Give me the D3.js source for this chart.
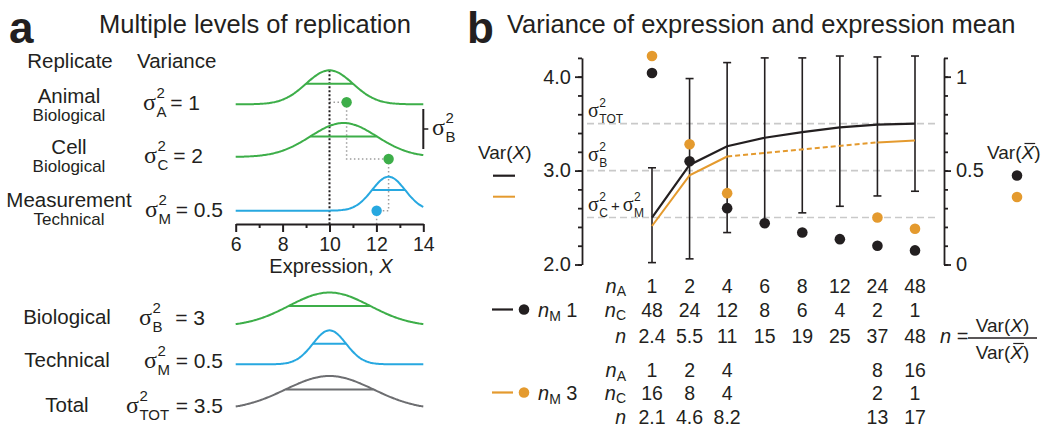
<!DOCTYPE html>
<html>
<head>
<meta charset="utf-8">
<script src="https://cdn.jsdelivr.net/npm/d3@7"></script>
<style>
  body { margin: 0; background: #fff; }
  svg text { font-family: "Liberation Sans", Arial, Helvetica, sans-serif; fill: #231f20; }
  svg text.sig { font-family: "Liberation Serif", "Times New Roman", serif; }
</style>
</head>
<body>
<svg id="fig" width="1050" height="431"></svg>
<script>
// ---------- panel a: levels of replication ----------
const rowNames = ["Animal", "Cell", "Measurement"];
const rowKinds = ["Biological", "Biological", "Technical"];
const rowSubs = ["A", "C", "M"];
const rowVar = [1, 2, 0.5];
const rowMean = [10, 10.6, 12.52];
const draws = [10.73, 12.52, 12.01]; // value drawn at each level

const sumNames = ["Biological", "Technical", "Total"];
const sumSubs = ["B", "M", "TOT"];
const sumVar = [3, 0.5, 3.5];
const sumMean = [10, 10, 10];

const exprTicks = [6, 8, 10, 12, 14];
const exprMinor = [7, 9, 11, 13];

// ---------- panel b: variance of expression and of the mean ----------
const nA1 = ["1", "2", "4", "6", "8", "12", "24", "48"];
const nC1 = ["48", "24", "12", "8", "6", "4", "2", "1"];
const nEff1 = ["2.4", "5.5", "11", "15", "19", "25", "37", "48"];
const varX1 = [2.50, 3.06, 3.26, 3.35, 3.41, 3.46, 3.49, 3.50];
const barLo1 = [2.02, 2.06, 2.34, 2.44, 2.55, 2.62, 2.73, 2.78];
const barHi1 = [3.03, 3.98, 4.15, 4.20, 4.20, 4.22, 4.21, 4.22];
const varMean1 = [1.02, 0.55, 0.30, 0.22, 0.17, 0.135, 0.10, 0.075];

const cols3 = ["1", "2", "4", "24", "48"]; // columns filled for n_M = 3
const nA3 = ["1", "2", "4", "8", "16"];
const nC3 = ["16", "8", "4", "2", "1"];
const nEff3 = ["2.1", "4.6", "8.2", "13", "17"];
const varX3 = [2.41, 2.95, 3.15, 3.30, 3.32];
const varMean3 = [1.11, 0.64, 0.38, 0.25, 0.19];

const refLines = [3.5, 3.0, 2.5]; // sigma_TOT, sigma_B, sigma_C + sigma_M

const green = "#3dae49", blue = "#27a8e0", grey = "#6d6e71",
      orange = "#e49a2e", ink = "#231f20", dotGrey = "#9d9d9d";
const font = '"Liberation Sans", Arial, Helvetica, sans-serif';

const svg = d3.select("#fig");

// sigma^2 with sub/superscript; returns right edge
function sigmaLabel(g, x, y, sub, o) {
  const size = o.size, small = o.small;
  const s = g.append("text").attr("class", "sig").attr("x", x).attr("y", y)
    .style("font-size", size + "px").text("σ");
  const sx = x + s.node().getComputedTextLength() + 0.5;
  const sup = g.append("text").attr("x", sx).attr("y", y - size * 0.5)
    .style("font-size", small + "px").text("2");
  const sb = g.append("text").attr("x", sx).attr("y", y + size * 0.28)
    .style("font-size", small + "px").text(sub);
  const right = sx + Math.max(sup.node().getComputedTextLength(), sb.node().getComputedTextLength());
  if (o.tail) {
    g.append("text").attr("x", o.tailEnd).attr("y", y).attr("text-anchor", "end")
      .style("font-size", o.tailSize + "px").text(o.tail);
  }
  return right;
}

// ================= panel a =================
const ga = svg.append("g");
ga.append("text").attr("x", 9).attr("y", 43).style("font-size", "44px")
  .style("font-weight", "bold").text("a");
ga.append("text").attr("x", 99).attr("y", 33).style("font-size", "25.5px")
  .text("Multiple levels of replication");
ga.append("text").attr("x", 70).attr("y", 68).attr("text-anchor", "middle")
  .style("font-size", "20.5px").text("Replicate");
ga.append("text").attr("x", 137).attr("y", 68).style("font-size", "20.5px").text("Variance");

const xa = d3.scaleLinear().domain([6, 14]).range([235.7, 423.3]);
const curveH = 34;
const rowBase = [104.3, 157, 210.7];
const sumBase = [326.5, 364.3, 410];
const rowColor = [green, green, blue];
const sumColor = [green, blue, grey];

const gauss = (m, v, base) => d3.line()
  .x(d => xa(d))
  .y(d => base - curveH * Math.exp(-((d - m) ** 2) / (2 * v)))
  .curve(d3.curveBasis)(d3.range(6, 14.001, 0.05));

function drawCurve(m, v, base, col) {
  ga.append("path").attr("d", gauss(m, v, base)).attr("fill", "none")
    .attr("stroke", col).attr("stroke-width", 2);
  const sd = Math.sqrt(v);
  ga.append("line").attr("x1", xa(m - sd)).attr("x2", xa(m + sd))
    .attr("y1", base - curveH * Math.exp(-0.5)).attr("y2", base - curveH * Math.exp(-0.5))
    .attr("stroke", col).attr("stroke-width", 2);
}

// guide lines (behind curves)
const guides = ga.append("g").attr("fill", "none").attr("stroke", dotGrey)
  .attr("stroke-width", 1.5).attr("stroke-dasharray", "1.5,2.5");
guides.append("path").attr("d", d3.line()([
  [xa(10), rowBase[0] - 2], [xa(draws[0]), rowBase[0] - 2]]));
guides.append("path").attr("d", d3.line()([
  [xa(draws[0]), rowBase[0] - 2], [xa(draws[0]), rowBase[1] + 2], [xa(draws[1]), rowBase[1] + 2]]));
guides.append("path").attr("d", d3.line()([
  [xa(draws[1]), rowBase[1] + 2], [xa(draws[1]), rowBase[2]], [xa(draws[2]), rowBase[2]]]));
guides.append("path").attr("d", d3.line()([
  [xa(draws[2]), rowBase[2]], [xa(draws[2]), 224]]));

ga.append("line").attr("x1", xa(10)).attr("x2", xa(10))
  .attr("y1", rowBase[0] - curveH).attr("y2", 224)
  .attr("stroke", ink).attr("stroke-width", 2).attr("stroke-dasharray", "2,2");

rowNames.forEach((n, i) => drawCurve(rowMean[i], rowVar[i], rowBase[i], rowColor[i]));
sumNames.forEach((n, i) => drawCurve(sumMean[i], sumVar[i], sumBase[i], sumColor[i]));

ga.selectAll(".draw").data(draws).join("circle").attr("class", "draw")
  .attr("cx", d => xa(d))
  .attr("cy", (d, i) => [rowBase[0] - 2, rowBase[1] + 2, rowBase[2]][i])
  .attr("r", 5.2).attr("fill", (d, i) => rowColor[i]);

// sigma_B bracket
ga.append("path").attr("d", d3.line()([[xa(14), 109], [xa(14), 149]]))
  .attr("stroke", ink).attr("stroke-width", 2);
ga.append("path").attr("d", d3.line()([[xa(14), 129], [xa(14) + 5, 129]]))
  .attr("stroke", ink).attr("stroke-width", 1.5);
sigmaLabel(ga, 432, 135, "B", { size: 24, small: 15 });

// row labels
const rowNameY = [103, 154, 207], rowKindY = [121, 172, 225];
const rowSigY = [110, 163, 217], rowSigX = [143, 144, 145], rowEnd = [200, 203, 223];
rowNames.forEach((n, i) => {
  ga.append("text").attr("x", 69).attr("y", rowNameY[i]).attr("text-anchor", "middle")
    .style("font-size", "20.5px").text(n);
  ga.append("text").attr("x", 69).attr("y", rowKindY[i]).attr("text-anchor", "middle")
    .style("font-size", "17px").text(rowKinds[i]);
  sigmaLabel(ga, rowSigX[i], rowSigY[i], rowSubs[i],
    { size: 24, small: 15, tail: "= " + rowVar[i], tailEnd: rowEnd[i], tailSize: 21 });
});
const sumY = [324, 367, 412], sumSigX = [139, 144, 126], sumEnd = [205, 223, 223];
sumNames.forEach((n, i) => {
  ga.append("text").attr("x", 67).attr("y", sumY[i]).attr("text-anchor", "middle")
    .style("font-size", "20.5px").text(n);
  sigmaLabel(ga, sumSigX[i], sumY[i] + 1, sumSubs[i],
    { size: 24, small: 15, tail: "= " + sumVar[i], tailEnd: sumEnd[i], tailSize: 21 });
});

// expression axis
const axA = ga.append("g").attr("transform", "translate(0,224)")
  .call(d3.axisBottom(xa).tickValues(exprTicks).tickSize(8).tickSizeOuter(0).tickPadding(5));
ga.append("g").attr("transform", "translate(0,224)")
  .call(d3.axisBottom(xa).tickValues(exprMinor).tickSize(4).tickFormat(""))
  .call(g => g.select(".domain").remove());
ga.selectAll(".tick line, .domain").attr("stroke", ink).attr("stroke-width", 2);
axA.selectAll("text").attr("font-family", font).style("font-size", "19.5px");
const xl = ga.append("text").attr("x", 331).attr("y", 273).attr("text-anchor", "middle")
  .style("font-size", "20px");
xl.append("tspan").text("Expression, ");
xl.append("tspan").style("font-style", "italic").text("X");

// ================= panel b =================
const gb = svg.append("g");
gb.append("text").attr("x", 467).attr("y", 43).style("font-size", "44px")
  .style("font-weight", "bold").text("b");
gb.append("text").attr("x", 507).attr("y", 33).style("font-size", "25.5px")
  .text("Variance of expression and expression mean");

const xb = d3.scalePoint().domain(nA1).range([652, 915]);
const yL = d3.scaleLinear().domain([2, 4.2]).range([264.5, 57.9]);
const yR = d3.scaleLinear().domain([0, 1.1]).range([264.5, 57.9]);
const leftX = 582, rightX = 944;

// reference lines
gb.selectAll(".ref").data(refLines).join("line").attr("class", "ref")
  .attr("x1", leftX + 5).attr("x2", rightX - 5)
  .attr("y1", d => yL(d)).attr("y2", d => yL(d))
  .attr("stroke", "#c9c9c9").attr("stroke-width", 1.6).attr("stroke-dasharray", "7,4");

// axes
function styleAxis(g) {
  g.selectAll(".tick line, .domain").attr("stroke", ink).attr("stroke-width", 1.8);
  g.selectAll("text").attr("font-family", font).style("font-size", "20px").attr("fill", ink);
}
const minorL = d3.range(12).map(i => +(2 + i * 0.2).toFixed(1));
gb.append("g").attr("transform", `translate(${leftX},0)`)
  .call(d3.axisLeft(yL).tickValues(minorL).tickSize(4).tickSizeOuter(0).tickFormat(""))
  .call(styleAxis);
gb.append("g").attr("transform", `translate(${leftX},0)`)
  .call(d3.axisLeft(yL).tickValues([2, 3, 4]).tickSize(7).tickPadding(4).tickFormat(d3.format(".1f")))
  .call(g => g.select(".domain").remove()).call(styleAxis);
const minorR = d3.range(12).map(i => +(i * 0.1).toFixed(1));
gb.append("g").attr("transform", `translate(${rightX},0)`)
  .call(d3.axisRight(yR).tickValues(minorR).tickSize(4).tickSizeOuter(0).tickFormat(""))
  .call(styleAxis);
gb.append("g").attr("transform", `translate(${rightX},0)`)
  .call(d3.axisRight(yR).tickValues([0, 0.5, 1]).tickSize(7).tickPadding(5).tickFormat(d => d))
  .call(g => g.select(".domain").remove()).call(styleAxis);

// sigma annotations
sigmaLabel(gb, 588, 117, "TOT", { size: 20, small: 12 });
sigmaLabel(gb, 588, 161, "B", { size: 20, small: 12 });
const r1 = sigmaLabel(gb, 588, 211, "C", { size: 20, small: 12 });
const plus = gb.append("text").attr("x", r1 + 3).attr("y", 211).style("font-size", "15px").text("+");
sigmaLabel(gb, r1 + 6 + plus.node().getComputedTextLength(), 211, "M", { size: 20, small: 12 });

// error bars (n_M = 1)
const bars = gb.append("g").attr("stroke", ink).attr("stroke-width", 1.6);
nA1.forEach((c, i) => {
  const x = xb(c);
  bars.append("line").attr("x1", x).attr("x2", x).attr("y1", yL(barLo1[i])).attr("y2", yL(barHi1[i]));
  [barLo1[i], barHi1[i]].forEach(v => bars.append("line")
    .attr("x1", x - 4).attr("x2", x + 4).attr("y1", yL(v)).attr("y2", yL(v)));
});

// Var(X) lines
const lineB = d3.line().x(d => xb(d[0])).y(d => yL(d[1]));
gb.append("path").attr("d", lineB(nA1.map((c, i) => [c, varX1[i]])))
  .attr("fill", "none").attr("stroke", ink).attr("stroke-width", 2.2);
const pts3 = cols3.map((c, i) => [c, varX3[i]]);
[[0, 3, null], [2, 4, "5,3"], [3, 5, null]].forEach(([a, b, dash]) => {
  gb.append("path").attr("d", lineB(pts3.slice(a, b))).attr("fill", "none")
    .attr("stroke", orange).attr("stroke-width", 2).attr("stroke-dasharray", dash);
});

// Var(mean) dots
gb.selectAll(".m1").data(varMean1).join("circle").attr("class", "m1")
  .attr("cx", (d, i) => xb(nA1[i])).attr("cy", d => yR(d)).attr("r", 5.3).attr("fill", ink);
gb.selectAll(".m3").data(varMean3).join("circle").attr("class", "m3")
  .attr("cx", (d, i) => xb(cols3[i])).attr("cy", d => yR(d)).attr("r", 5.3).attr("fill", orange);

// legends
function varText(g, x, y, bar, anchor) {
  const t = g.append("text").attr("x", x).attr("y", y).style("font-size", "19px")
    .attr("text-anchor", anchor || "start");
  t.append("tspan").text("Var(");
  t.append("tspan").style("font-style", "italic").text("X");
  t.append("tspan").text(")");
  if (bar) {
    const e = t.node().getExtentOfChar(4);
    g.append("line").attr("x1", e.x + 3).attr("x2", e.x + e.width + 1)
      .attr("y1", e.y + 1.5).attr("y2", e.y + 1.5).attr("stroke", ink).attr("stroke-width", 1.2);
  }
  return t;
}
varText(gb, 478, 159, false);
gb.append("line").attr("x1", 493).attr("x2", 515).attr("y1", 175.7).attr("y2", 175.7)
  .attr("stroke", ink).attr("stroke-width", 2.2);
gb.append("line").attr("x1", 493).attr("x2", 515).attr("y1", 196.7).attr("y2", 196.7)
  .attr("stroke", orange).attr("stroke-width", 2);
varText(gb, 987, 159, true);
gb.append("circle").attr("cx", 1017).attr("cy", 175.5).attr("r", 5.3).attr("fill", ink);
gb.append("circle").attr("cx", 1017).attr("cy", 197).attr("r", 5.3).attr("fill", orange);

// table
const rowsY1 = [292.5, 316.5, 343], rowsY2 = [377, 399.5, 424];
function rowLabel(y, sub) {
  const t = gb.append("text").attr("x", 626).attr("y", y).attr("text-anchor", "end")
    .style("font-size", sub ? "20px" : "19.5px");
  t.append("tspan").style("font-style", "italic").text("n");
  if (sub) t.append("tspan").attr("dy", 3.5).style("font-size", "14px").text(sub);
}
function rowValues(vals, cols, y) {
  gb.append("g").selectAll("text").data(vals).join("text")
    .attr("x", (d, i) => xb(cols[i])).attr("y", y).attr("text-anchor", "middle")
    .style("font-size", "19.5px").text(d => d);
}
[[nA1, nC1, nEff1, nA1, rowsY1], [nA3, nC3, nEff3, cols3, rowsY2]].forEach(([a, c, n, cols, ys]) => {
  rowLabel(ys[0], "A"); rowValues(a, cols, ys[0]);
  rowLabel(ys[1], "C"); rowValues(c, cols, ys[1]);
  rowLabel(ys[2], null); rowValues(n, cols, ys[2]);
});
[[rowsY1[1], ink, "1"], [rowsY2[1], orange, "3"]].forEach(([y, col, m]) => {
  gb.append("line").attr("x1", 492).attr("x2", 513).attr("y1", y - 7).attr("y2", y - 7)
    .attr("stroke", col).attr("stroke-width", 2.2);
  gb.append("circle").attr("cx", 524).attr("cy", y - 7).attr("r", 5.3).attr("fill", col);
  const t = gb.append("text").attr("x", 538).attr("y", y).style("font-size", "20px");
  t.append("tspan").style("font-style", "italic").text("n");
  t.append("tspan").attr("dy", 4).style("font-size", "14px").text("M");
  t.append("tspan").attr("dy", -4).text(" " + m);
});

// n = Var(X) / Var(mean)
const ft = gb.append("text").attr("x", 940).attr("y", 343).style("font-size", "20px");
ft.append("tspan").style("font-style", "italic").text("n");
ft.append("tspan").text(" =");
gb.append("line").attr("x1", 968).attr("x2", 1037).attr("y1", 338).attr("y2", 338)
  .attr("stroke", ink).attr("stroke-width", 1.3);
varText(gb, 1002.5, 332, false, "middle");
varText(gb, 1002.5, 359, true, "middle");
</script>
</body>
</html>
